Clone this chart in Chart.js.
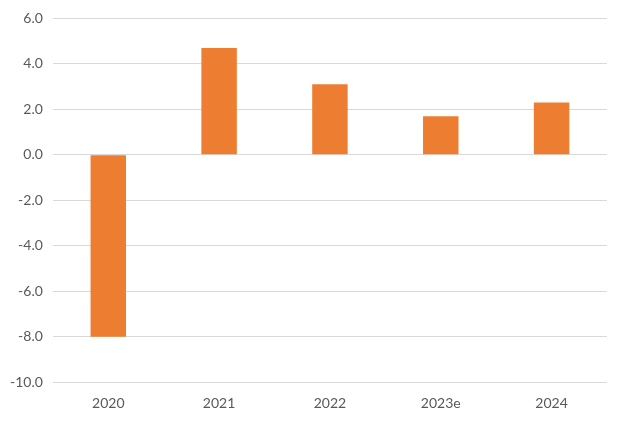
<!DOCTYPE html>
<html>
<head>
<meta charset="utf-8">
<script src="https://cdn.jsdelivr.net/npm/chart.js@4"></script>
<style>
  html, body { margin: 0; padding: 0; background: #fff; }
  #wrap { width: 631px; height: 423px; }
</style>
</head>
<body>
<div id="wrap"><canvas id="barChart"></canvas></div>
<script>
  const years = ['2020', '2021', '2022', '2023e', '2024'];
  const growth = [-8.0, 4.7, 3.1, 1.7, 2.3];
  const yMin = -10;
  const yMax = 6;
  const yStep = 2;

  const ctx = document.getElementById('barChart').getContext('2d');
  const barChart = new Chart(ctx, {
    type: 'bar',
    data: {
      labels: years,
      datasets: [{
        data: growth,
        backgroundColor: '#ED7D31',
        barPercentage: 0.32,
        categoryPercentage: 1
      }]
    },
    options: {
      responsive: true,
      maintainAspectRatio: false,
      animation: false,
      layout: { padding: { top: 9, right: 24, bottom: 6, left: 0 } },
      plugins: {
        legend: { display: false },
        tooltip: { enabled: false }
      },
      scales: {
        x: {
          grid: { display: false },
          border: { display: false },
          ticks: { color: '#595959', font: { family: 'Lato', size: 14 }, padding: 5 }
        },
        y: {
          min: yMin,
          max: yMax,
          grid: { color: '#d9d9d9', lineWidth: 1, drawTicks: false },
          border: { display: false },
          ticks: {
            stepSize: yStep,
            color: '#595959',
            font: { family: 'Lato', size: 14 },
            padding: 10,
            callback: v => v.toFixed(1)
          }
        }
      }
    }
  });
</script>
</body>
</html>
